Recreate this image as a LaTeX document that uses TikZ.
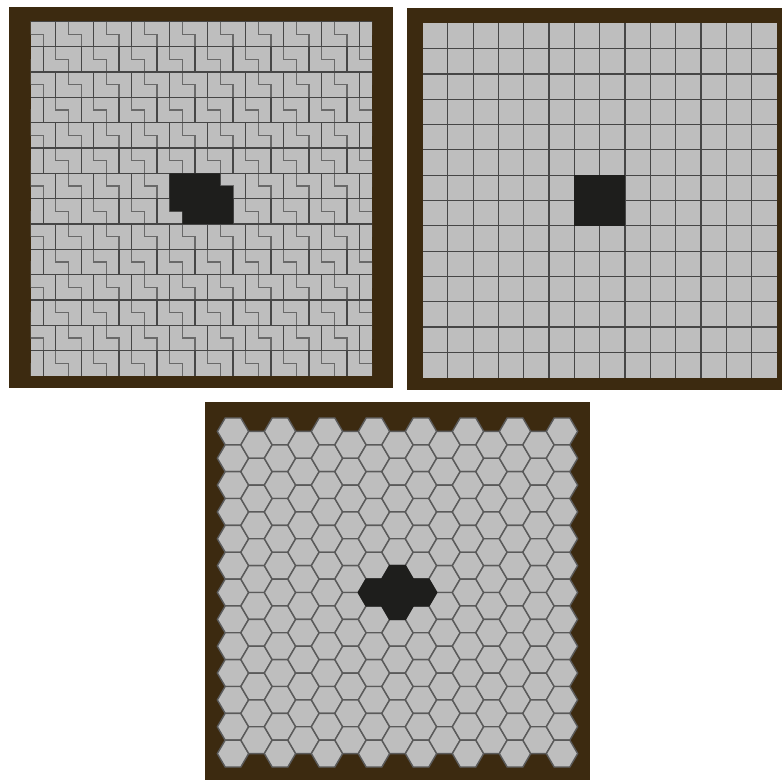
\documentclass[tikz,border=0pt]{standalone}
\usepackage{tikz}
\definecolor{framebrown}{RGB}{60,42,16}
\definecolor{cellgray}{RGB}{190,190,190}
\definecolor{edgegray}{RGB}{70,70,70}
\definecolor{stepgray}{RGB}{105,105,105}
\definecolor{hexgray}{RGB}{90,90,90}
\definecolor{seedblack}{RGB}{30,30,28}
\tikzset{
  frame/.style={fill=framebrown, draw=none},
  board/.style={fill=cellgray, draw=none},
  edge/.style={draw=edgegray, line width=0.35pt},
  stepedge/.style={draw=stepgray, line width=0.35pt},
  seed/.style={fill=seedblack, draw=none},
  hexcell/.style={fill=cellgray, draw=hexgray, line width=0.4pt},
  hexseed/.style={fill=seedblack, draw=seedblack, line width=0.4pt}
}

\begin{document}
\begin{tikzpicture}[x=0.01cm, y=-0.01cm]
\useasboundingbox (0,0) rectangle (782,780);
% top left: L tiles
\fill[frame] (9,7) rectangle (393,388);
\begin{scope}[shift={(30.5,21.5)}, x=0.1265cm, y=-0.1265cm]
  \fill[board] (0,0) rectangle (27,28);
  \clip (0,0) rectangle (27,28);
  \foreach \b in {0,...,13} {
    \pgfmathtruncatemacro\s{2*mod(\b,2)}
    \foreach \k in {-1,...,9} {
      \pgfmathtruncatemacro\h{3*\k+\s}
      \draw[stepedge] (\h,2*\b) -- (\h,2*\b+1) -- (\h+1,2*\b+1) -- (\h+1,2*\b+2);
      \draw[edge] (\h+2,2*\b) -- (\h+2,2*\b+2);
    }
    \draw[edge] (0,2*\b) -- (27,2*\b);
  }
  \fill[seed] (11,12) -- (15,12) -- (15,13) -- (16,13) -- (16,16)
    -- (12,16) -- (12,15) -- (11,15) -- cycle;
\end{scope}

% top right: squares
\fill[frame] (407,8) rectangle (782,390);
\begin{scope}[shift={(422.5,23.3)}, x=0.253cm, y=-0.253cm]
  \fill[board] (0,0) rectangle (14,14);
  \foreach \i in {1,...,13} {
    \draw[edge] (\i,0) -- (\i,14);
    \draw[edge] (0,\i) -- (14,\i);
  }
  \fill[seed] (6,6) rectangle (8,8);
\end{scope}

% bottom: hexagons
\fill[frame] (205,402) rectangle (590,780);
\begin{scope}[shift={(233,431.4)}]
  \foreach \c in {0,...,14} {
    \pgfmathtruncatemacro\odd{mod(\c,2)}
    \pgfmathtruncatemacro\last{12-\odd}
    \foreach \r in {0,...,\last} {
      \draw[hexcell, shift={(23.5*\c, 26.85*\r + 13.43*\odd)}]
        (-15.67,0) -- (-7.83,-13.43) -- (7.83,-13.43) -- (15.67,0)
        -- (7.83,13.43) -- (-7.83,13.43) -- cycle;
    }
  }
  \foreach \c/\r/\o in {6/6/0, 8/6/0, 7/5/1, 7/6/1} {
    \draw[hexseed, shift={(23.5*\c, 26.85*\r + 13.43*\o)}]
      (-15.67,0) -- (-7.83,-13.43) -- (7.83,-13.43) -- (15.67,0)
      -- (7.83,13.43) -- (-7.83,13.43) -- cycle;
  }
\end{scope}
\end{tikzpicture}
\end{document}
